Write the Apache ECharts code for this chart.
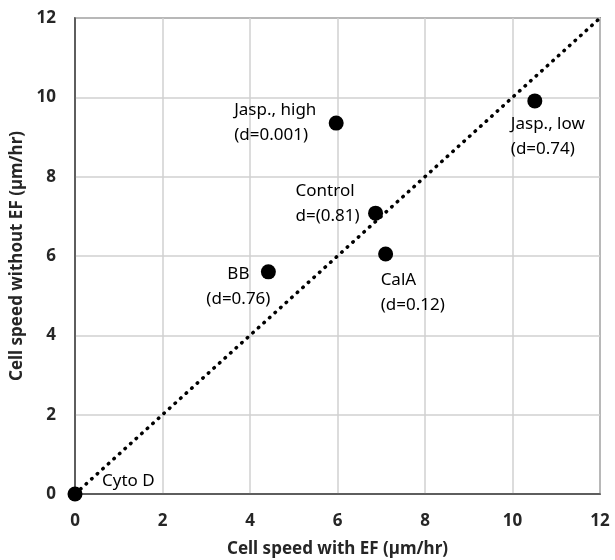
<!DOCTYPE html>
<html>
<head>
<meta charset="utf-8">
<script src="https://cdn.jsdelivr.net/npm/echarts@6/dist/echarts.min.js"></script>
<style>
  html, body { margin: 0; padding: 0; background: #fff; }
  #chart { width: 615px; height: 560px; }
</style>
</head>
<body>
<div id="chart"></div>
<script>
  // treatments, speeds
  const names = ['Cyto D', 'BB', 'Jasp., high', 'Control', 'CalA', 'Jasp., low'];
  const withEF = [0, 4.42, 5.97, 6.87, 7.10, 10.51];
  const withoutEF = [0, 5.60, 9.35, 7.08, 6.05, 9.91];
  const pointLabels = ['Cyto D', 'BB\n(d=0.76)', 'Jasp., high\n(d=0.001)', 'Control\nd=(0.81)', 'CalA\n(d=0.12)', 'Jasp., low\n(d=0.74)'];
  // y = x reference line
  const identityLine = [[0, 0], [12, 12]];
  const axisMin = 0, axisMax = 12, axisStep = 2;

  // where each label sits around its dot (pixels from the dot centre)
  const labelPlace = {
    'Cyto D': { dx: 27, dy: -13, align: 'left' },
    'BB': { dx: -30, dy: 15, align: 'center' },
    'Jasp., high': { dx: -102, dy: 0, align: 'left' },
    'Control': { dx: -80, dy: -10, align: 'left' },
    'CalA': { dx: -5, dy: 39, align: 'left' },
    'Jasp., low': { dx: -24, dy: 36, align: 'left' }
  };

  const font = 'Noto Sans';
  const dark = '#262626';

  let points = names.map(function (n, i) {
    let p = labelPlace[n];
    return {
      name: n,
      value: [withEF[i], withoutEF[i]],
      label: {
        show: true,
        formatter: pointLabels[i],
        position: 'inside',
        offset: [p.dx, p.dy],
        align: p.align,
        verticalAlign: 'middle'
      }
    };
  });

  let axisCommon = {
    type: 'value',
    min: axisMin,
    max: axisMax,
    interval: axisStep,
    nameLocation: 'middle',
    nameTextStyle: { fontFamily: font, fontSize: 17, fontWeight: 'bold', color: dark },
    axisLine: { show: true, lineStyle: { color: '#404040', width: 1.5 } },
    axisTick: { show: false },
    axisLabel: { fontFamily: font, fontSize: 17, fontWeight: 'bold', color: dark, margin: 19 },
    splitLine: { show: true, lineStyle: { color: '#d0d0d0', width: 1.5 } }
  };

  let myChart = echarts.init(document.getElementById('chart'));
  let option = {
    animation: false,
    grid: {
      left: 75, right: 15, top: 18, bottom: 66,
      outerBoundsMode: 'none',
      show: true, borderColor: '#404040', borderWidth: 1.5
    },
    xAxis: Object.assign({}, axisCommon, {
      name: 'Cell speed with EF (µm/hr)',
      nameGap: 47
    }),
    yAxis: Object.assign({}, axisCommon, {
      name: 'Cell speed without EF (µm/hr)',
      nameGap: 47
    }),
    series: [
      {
        type: 'line',
        data: identityLine,
        symbol: 'none',
        z: 2,
        lineStyle: { color: '#000', width: 3.5, type: [0.5, 7], cap: 'round' }
      },
      {
        type: 'scatter',
        data: points,
        symbol: 'circle',
        symbolSize: 15,
        clip: false,
        z: 3,
        itemStyle: { color: '#000', opacity: 1 },
        label: { fontFamily: font, fontSize: 17, color: '#000', lineHeight: 25 }
      }
    ]
  };
  myChart.setOption(option);
</script>
</body>
</html>
